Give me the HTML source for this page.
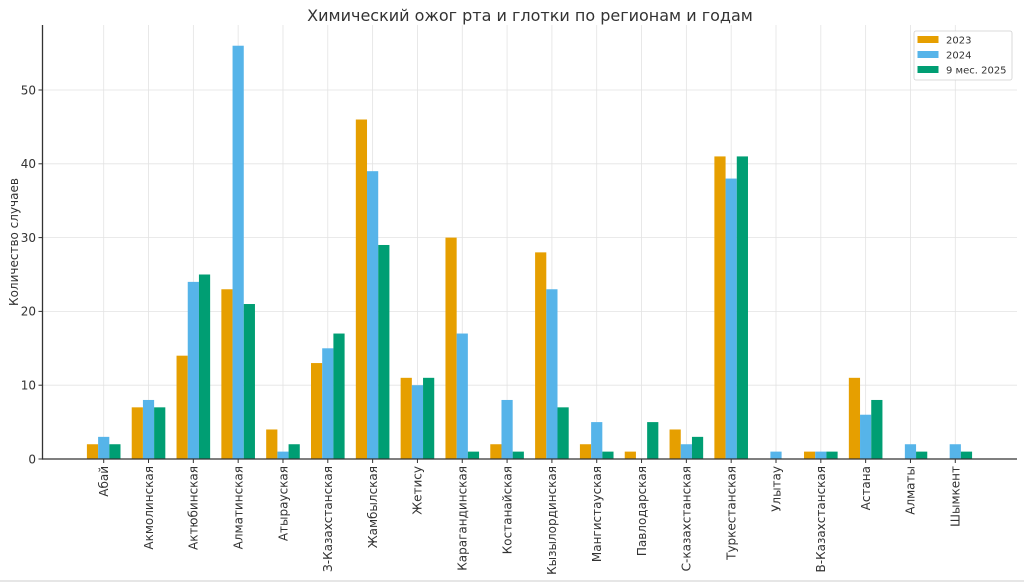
<!DOCTYPE html>
<html>
<head>
<meta charset="utf-8">
<style>
  html,body{margin:0;padding:0;background:#fff;}
  svg{display:block;}
  text{font-family:"DejaVu Sans","Liberation Sans",sans-serif;fill:#333;}
</style>
</head>
<body>
<svg width="1024" height="582" viewBox="0 0 1024 582" xmlns="http://www.w3.org/2000/svg">
  <rect x="0" y="0" width="1024" height="582" fill="#fff"/>
  <rect x="0" y="580" width="1024" height="2" fill="#e6e6e6"/>

  <!-- grid -->
  <g stroke="#e3e3e3" stroke-width="0.8">
    <line x1="42.5" x2="1017" y1="385.2" y2="385.2"/>
    <line x1="42.5" x2="1017" y1="311.4" y2="311.4"/>
    <line x1="42.5" x2="1017" y1="237.6" y2="237.6"/>
    <line x1="42.5" x2="1017" y1="163.8" y2="163.8"/>
    <line x1="42.5" x2="1017" y1="90" y2="90"/>
    <line x1="103.7" x2="103.7" y1="25" y2="459"/>
    <line x1="148.52" x2="148.52" y1="25" y2="459"/>
    <line x1="193.34" x2="193.34" y1="25" y2="459"/>
    <line x1="238.16" x2="238.16" y1="25" y2="459"/>
    <line x1="282.98" x2="282.98" y1="25" y2="459"/>
    <line x1="327.8" x2="327.8" y1="25" y2="459"/>
    <line x1="372.62" x2="372.62" y1="25" y2="459"/>
    <line x1="417.44" x2="417.44" y1="25" y2="459"/>
    <line x1="462.26" x2="462.26" y1="25" y2="459"/>
    <line x1="507.08" x2="507.08" y1="25" y2="459"/>
    <line x1="551.9" x2="551.9" y1="25" y2="459"/>
    <line x1="596.72" x2="596.72" y1="25" y2="459"/>
    <line x1="641.54" x2="641.54" y1="25" y2="459"/>
    <line x1="686.36" x2="686.36" y1="25" y2="459"/>
    <line x1="731.18" x2="731.18" y1="25" y2="459"/>
    <line x1="776" x2="776" y1="25" y2="459"/>
    <line x1="820.82" x2="820.82" y1="25" y2="459"/>
    <line x1="865.64" x2="865.64" y1="25" y2="459"/>
    <line x1="910.46" x2="910.46" y1="25" y2="459"/>
    <line x1="955.28" x2="955.28" y1="25" y2="459"/>
  </g>

  <!-- bars -->
  <g transform="translate(0,459) scale(1,-7.38)">
    <g fill="#E69F00">
      <rect x="86.9" y="0" width="11.2" height="2"/>
      <rect x="131.72" y="0" width="11.2" height="7"/>
      <rect x="176.54" y="0" width="11.2" height="14"/>
      <rect x="221.36" y="0" width="11.2" height="23"/>
      <rect x="266.18" y="0" width="11.2" height="4"/>
      <rect x="311.0" y="0" width="11.2" height="13"/>
      <rect x="355.82" y="0" width="11.2" height="46"/>
      <rect x="400.64" y="0" width="11.2" height="11"/>
      <rect x="445.46" y="0" width="11.2" height="30"/>
      <rect x="490.28" y="0" width="11.2" height="2"/>
      <rect x="535.1" y="0" width="11.2" height="28"/>
      <rect x="579.92" y="0" width="11.2" height="2"/>
      <rect x="624.74" y="0" width="11.2" height="1"/>
      <rect x="669.56" y="0" width="11.2" height="4"/>
      <rect x="714.38" y="0" width="11.2" height="41"/>
      <rect x="804.02" y="0" width="11.2" height="1"/>
      <rect x="848.84" y="0" width="11.2" height="11"/>
    </g>
    <g fill="#56B4E9">
      <rect x="98.1" y="0" width="11.2" height="3"/>
      <rect x="142.92" y="0" width="11.2" height="8"/>
      <rect x="187.74" y="0" width="11.2" height="24"/>
      <rect x="232.56" y="0" width="11.2" height="56"/>
      <rect x="277.38" y="0" width="11.2" height="1"/>
      <rect x="322.2" y="0" width="11.2" height="15"/>
      <rect x="367.02" y="0" width="11.2" height="39"/>
      <rect x="411.84" y="0" width="11.2" height="10"/>
      <rect x="456.66" y="0" width="11.2" height="17"/>
      <rect x="501.48" y="0" width="11.2" height="8"/>
      <rect x="546.3" y="0" width="11.2" height="23"/>
      <rect x="591.12" y="0" width="11.2" height="5"/>
      <rect x="680.76" y="0" width="11.2" height="2"/>
      <rect x="725.58" y="0" width="11.2" height="38"/>
      <rect x="770.4" y="0" width="11.2" height="1"/>
      <rect x="815.22" y="0" width="11.2" height="1"/>
      <rect x="860.04" y="0" width="11.2" height="6"/>
      <rect x="904.86" y="0" width="11.2" height="2"/>
      <rect x="949.68" y="0" width="11.2" height="2"/>
    </g>
    <g fill="#009E73">
      <rect x="109.3" y="0" width="11.2" height="2"/>
      <rect x="154.12" y="0" width="11.2" height="7"/>
      <rect x="198.94" y="0" width="11.2" height="25"/>
      <rect x="243.76" y="0" width="11.2" height="21"/>
      <rect x="288.58" y="0" width="11.2" height="2"/>
      <rect x="333.4" y="0" width="11.2" height="17"/>
      <rect x="378.22" y="0" width="11.2" height="29"/>
      <rect x="423.04" y="0" width="11.2" height="11"/>
      <rect x="467.86" y="0" width="11.2" height="1"/>
      <rect x="512.68" y="0" width="11.2" height="1"/>
      <rect x="557.5" y="0" width="11.2" height="7"/>
      <rect x="602.32" y="0" width="11.2" height="1"/>
      <rect x="647.14" y="0" width="11.2" height="5"/>
      <rect x="691.96" y="0" width="11.2" height="3"/>
      <rect x="736.78" y="0" width="11.2" height="41"/>
      <rect x="826.42" y="0" width="11.2" height="1"/>
      <rect x="871.24" y="0" width="11.2" height="8"/>
      <rect x="916.06" y="0" width="11.2" height="1"/>
      <rect x="960.88" y="0" width="11.2" height="1"/>
    </g>
  </g>

  <!-- spines -->
  <g stroke="#333" stroke-width="1.3">
    <line x1="42.5" x2="42.5" y1="25" y2="459.6"/>
    <line x1="42" x2="1017" y1="459" y2="459"/>
  </g>

  <!-- ticks -->
  <g stroke="#333" stroke-width="1">
    <line x1="38.5" x2="42.5" y1="459" y2="459"/>
    <line x1="38.5" x2="42.5" y1="385.2" y2="385.2"/>
    <line x1="38.5" x2="42.5" y1="311.4" y2="311.4"/>
    <line x1="38.5" x2="42.5" y1="237.6" y2="237.6"/>
    <line x1="38.5" x2="42.5" y1="163.8" y2="163.8"/>
    <line x1="38.5" x2="42.5" y1="90" y2="90"/>
    <line x1="103.7" x2="103.7" y1="459" y2="463"/>
    <line x1="148.52" x2="148.52" y1="459" y2="463"/>
    <line x1="193.34" x2="193.34" y1="459" y2="463"/>
    <line x1="238.16" x2="238.16" y1="459" y2="463"/>
    <line x1="282.98" x2="282.98" y1="459" y2="463"/>
    <line x1="327.8" x2="327.8" y1="459" y2="463"/>
    <line x1="372.62" x2="372.62" y1="459" y2="463"/>
    <line x1="417.44" x2="417.44" y1="459" y2="463"/>
    <line x1="462.26" x2="462.26" y1="459" y2="463"/>
    <line x1="507.08" x2="507.08" y1="459" y2="463"/>
    <line x1="551.9" x2="551.9" y1="459" y2="463"/>
    <line x1="596.72" x2="596.72" y1="459" y2="463"/>
    <line x1="641.54" x2="641.54" y1="459" y2="463"/>
    <line x1="686.36" x2="686.36" y1="459" y2="463"/>
    <line x1="731.18" x2="731.18" y1="459" y2="463"/>
    <line x1="776" x2="776" y1="459" y2="463"/>
    <line x1="820.82" x2="820.82" y1="459" y2="463"/>
    <line x1="865.64" x2="865.64" y1="459" y2="463"/>
    <line x1="910.46" x2="910.46" y1="459" y2="463"/>
    <line x1="955.28" x2="955.28" y1="459" y2="463"/>
  </g>

  <!-- y tick labels -->
  <g font-size="12" text-anchor="end">
    <text x="36" y="463.3">0</text>
    <text x="36" y="389.5">10</text>
    <text x="36" y="315.7">20</text>
    <text x="36" y="241.9">30</text>
    <text x="36" y="168.1">40</text>
    <text x="36" y="94.3">50</text>
  </g>

  <!-- y axis label -->
  <text font-size="12" text-anchor="middle" transform="translate(18,242) rotate(-90)">Количество случаев</text>

  <!-- x tick labels -->
  <g font-size="12" text-anchor="end">
    <text transform="translate(108,466) rotate(-90)">Абай</text>
    <text transform="translate(152.8,466) rotate(-90)">Акмолинская</text>
    <text transform="translate(197.6,466) rotate(-90)">Актюбинская</text>
    <text transform="translate(242.4,466) rotate(-90)">Алматинская</text>
    <text transform="translate(287.3,466) rotate(-90)">Атырауская</text>
    <text transform="translate(332.1,466) rotate(-90)">З-Казахстанская</text>
    <text transform="translate(376.9,466) rotate(-90)">Жамбылская</text>
    <text transform="translate(421.7,466) rotate(-90)">Жетису</text>
    <text transform="translate(466.5,466) rotate(-90)">Карагандинская</text>
    <text transform="translate(511.4,466) rotate(-90)">Костанайская</text>
    <text transform="translate(556.2,466) rotate(-90)">Кызылординская</text>
    <text transform="translate(601,466) rotate(-90)">Мангистауская</text>
    <text transform="translate(645.8,466) rotate(-90)">Павлодарская</text>
    <text transform="translate(690.6,466) rotate(-90)">С-казахстанская</text>
    <text transform="translate(735.5,466) rotate(-90)">Туркестанская</text>
    <text transform="translate(780.3,466) rotate(-90)">Улытау</text>
    <text transform="translate(825.1,466) rotate(-90)">В-Казахстанская</text>
    <text transform="translate(869.9,466) rotate(-90)">Астана</text>
    <text transform="translate(914.7,466) rotate(-90)">Алматы</text>
    <text transform="translate(959.6,466) rotate(-90)">Шымкент</text>
  </g>

  <!-- title -->
  <text x="530" y="21" font-size="16" text-anchor="middle">Химический ожог рта и глотки по регионам и годам</text>

  <!-- legend -->
  <rect x="914" y="31" width="98" height="49" fill="#fff" fill-opacity="0.85" stroke="#d0d0d0" stroke-width="0.8" rx="2"/>
  <rect x="917.5" y="36" width="21" height="7" fill="#E69F00"/>
  <rect x="917.5" y="51" width="21" height="7" fill="#56B4E9"/>
  <rect x="917.5" y="66" width="21" height="7" fill="#009E73"/>
  <g font-size="10">
    <text x="946" y="43.5">2023</text>
    <text x="946" y="58.5">2024</text>
    <text x="946" y="73.5">9 мес. 2025</text>
  </g>
</svg>
</body>
</html>
